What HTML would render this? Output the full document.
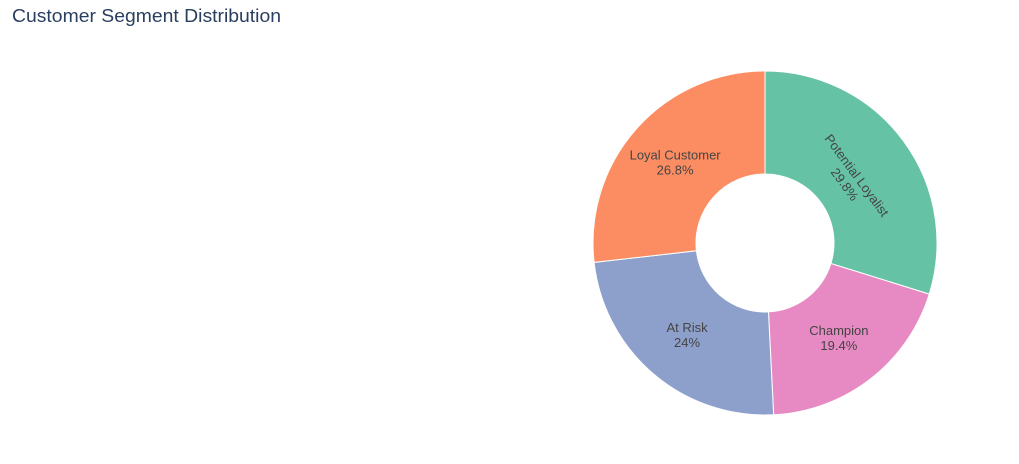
<!DOCTYPE html>
<html><head><meta charset="utf-8"><style>
body{margin:0;background:#fff;font-family:"Liberation Sans",Arial,sans-serif;}
</style></head><body>
<svg width="1019" height="459">
<text x="12" y="22" font-size="18" fill="#2a3f5f" textLength="269" lengthAdjust="spacingAndGlyphs">Customer Segment Distribution</text>
<g id="pie"></g>
</svg>
<script>
const labels=["Potential Loyalist","Champion","At Risk","Loyal Customer"];
const values=[29.8,19.4,24,26.8];
const colors=["#66c2a5","#e78ac3","#8da0cb","#fc8d62"];
const cx=765,cy=243,R=172,r=69;
const g=document.getElementById('pie');
const total=values.reduce((a,b)=>a+b,0);
let a0=0;
function pt(rad,a){return [cx+rad*Math.sin(a),cy-rad*Math.cos(a)];}
values.forEach((v,i)=>{
  const a1=a0+v/total*2*Math.PI;
  const large=(a1-a0)>Math.PI?1:0;
  const [x0,y0]=pt(R,a0),[x1,y1]=pt(R,a1),[x2,y2]=pt(r,a1),[x3,y3]=pt(r,a0);
  const p=document.createElementNS('http://www.w3.org/2000/svg','path');
  p.setAttribute('d',`M${x0},${y0}A${R},${R} 0 ${large} 1 ${x1},${y1}L${x2},${y2}A${r},${r} 0 ${large} 0 ${x3},${y3}Z`);
  p.setAttribute('fill',colors[i]);p.setAttribute('stroke','#fff');p.setAttribute('stroke-width','1');
  
  
  g.appendChild(p);
  const am=(a0+a1)/2;
  let rot=0, rad=(R+r)/2;
  if(v===Math.max(...values)){rot=am*180/Math.PI;rad=(R+r)/2-14;}
  const [tx,ty]=pt(rad,am);
  const t=document.createElementNS('http://www.w3.org/2000/svg','text');
  t.setAttribute('text-anchor','middle');t.setAttribute('font-size','13');t.setAttribute('fill','#444');
  t.setAttribute('transform',`translate(${tx},${ty}) rotate(${rot})`);
  
  
  const s1=document.createElementNS('http://www.w3.org/2000/svg','tspan');
  s1.setAttribute('x',0);s1.setAttribute('y',-3);s1.textContent=labels[i];
  const s2=document.createElementNS('http://www.w3.org/2000/svg','tspan');
  s2.setAttribute('x',0);s2.setAttribute('y',12);s2.textContent=v+'%';
  t.appendChild(s1);t.appendChild(s2);g.appendChild(t);
  a0=a1;
});
</script>
</body></html>
